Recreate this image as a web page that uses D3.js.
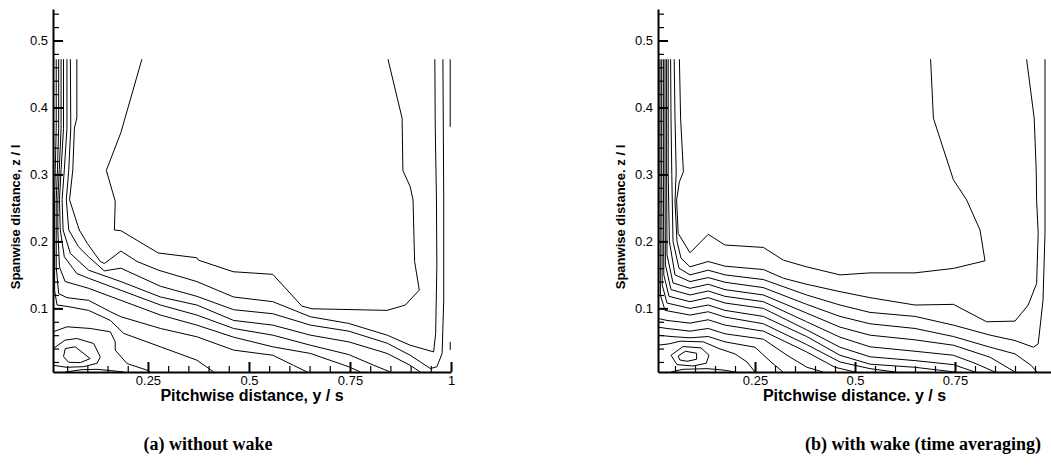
<!DOCTYPE html>
<html>
<head>
<meta charset="utf-8">
<script src="https://cdn.jsdelivr.net/npm/d3@7"></script>
<style>
  body { margin: 0; background: #fff; }
  svg { display: block; }
</style>
</head>
<body>
<div id="chart"></div>
<script>
const width = 1051, height = 468;

// tick values
const yMajor = [0.1, 0.2, 0.3, 0.4, 0.5];
const yMinor = [0.02, 0.04, 0.06, 0.08, 0.12, 0.14, 0.16, 0.18, 0.22, 0.24, 0.26, 0.28,
                0.32, 0.34, 0.36, 0.38, 0.42, 0.44, 0.46, 0.48, 0.52, 0.54];
const xMajorA = [0.25, 0.5, 0.75, 1];
const xMajorB = [0.25, 0.5, 0.75];
const xMinor = [0.05, 0.1, 0.15, 0.2, 0.3, 0.35, 0.4, 0.45, 0.55, 0.6, 0.65, 0.7, 0.8, 0.85, 0.9, 0.95];

// contour lines, (a) without wake: [y/s, z/l]
const contoursA = [
  [[0.235,0.472],[0.183,0.3625],[0.147,0.306],[0.169,0.26],[0.167,0.217],[0.183,0.216],[0.2755,0.1827],[0.371,0.1756],[0.375,0.172],[0.461,0.1547],[0.559,0.1508],[0.631,0.1034],[0.656,0.0994],[0.8416,0.097],[0.887,0.105],[0.9215,0.1274],[0.91,0.1697],[0.906,0.262],[0.899,0.2818],[0.881,0.3057],[0.879,0.384],[0.844,0.472]],
  [[0.074,0.472],[0.074,0.384],[0.068,0.369],[0.064,0.307],[0.056,0.262],[0.08,0.217],[0.1,0.197],[0.132,0.17],[0.142,0.167],[0.161,0.1755],[0.183,0.1856],[0.223,0.17],[0.276,0.157],[0.371,0.14],[0.462,0.117],[0.559,0.11],[0.652,0.0875],[0.747,0.0775],[0.842,0.06],[0.899,0.045],[0.957,0.035],[0.962,0.0626],[0.965,0.162],[0.964,0.262],[0.961,0.371],[0.96,0.472]],
  [[0.058,0.472],[0.059,0.369],[0.054,0.307],[0.048,0.262],[0.054,0.217],[0.078,0.192],[0.103,0.177],[0.142,0.156],[0.183,0.16],[0.281,0.133],[0.371,0.118],[0.462,0.098],[0.559,0.092],[0.652,0.075],[0.747,0.066],[0.842,0.048],[0.899,0.03],[0.949,0.0102],[0.965,0.0127],[0.978,0.0327],[0.982,0.112],[0.982,0.262],[0.98,0.472]],
  [[0.0495,0.472],[0.0495,0.369],[0.043,0.307],[0.0375,0.262],[0.04,0.217],[0.058,0.182],[0.103,0.157],[0.183,0.14],[0.281,0.117],[0.371,0.105],[0.462,0.082],[0.559,0.075],[0.652,0.06],[0.747,0.05],[0.842,0.0327],[0.899,0.015],[0.924,0.005]],
  [[0.041,0.472],[0.041,0.369],[0.035,0.307],[0.031,0.262],[0.033,0.217],[0.043,0.177],[0.074,0.152],[0.103,0.145],[0.183,0.127],[0.281,0.105],[0.371,0.09],[0.462,0.07],[0.559,0.06],[0.652,0.045],[0.747,0.031],[0.809,0.015],[0.85,0.005]],
  [[0.035,0.472],[0.035,0.369],[0.0305,0.307],[0.027,0.262],[0.027,0.217],[0.031,0.162],[0.045,0.14],[0.103,0.13],[0.183,0.112],[0.281,0.09],[0.371,0.075],[0.462,0.057],[0.559,0.0426],[0.652,0.0327],[0.747,0.0128],[0.776,0.005]],
  [[0.029,0.472],[0.029,0.369],[0.026,0.307],[0.023,0.262],[0.023,0.162],[0.029,0.122],[0.0495,0.116],[0.103,0.112],[0.157,0.095],[0.183,0.0875],[0.281,0.07],[0.371,0.0576],[0.462,0.0377],[0.559,0.03],[0.61,0.015],[0.644,0.005]],
  [[0.023,0.472],[0.023,0.369],[0.0206,0.307],[0.019,0.262],[0.019,0.127],[0.025,0.105],[0.0495,0.103],[0.103,0.097],[0.157,0.082],[0.19,0.0626],[0.281,0.0426],[0.371,0.0227],[0.413,0.005]],
  [[0.0156,0.065],[0.0495,0.0725],[0.107,0.07],[0.157,0.065],[0.169,0.05],[0.169,0.0377],[0.198,0.0177],[0.2475,0.0078],[0.256,0.005]],
  [[0.0156,0.04],[0.045,0.0526],[0.074,0.055],[0.1155,0.0476],[0.132,0.0277],[0.124,0.018],[0.091,0.013],[0.0495,0.012],[0.0156,0.015]],
  [[0.0454,0.04],[0.07,0.0426],[0.107,0.025],[0.083,0.019],[0.0536,0.0195],[0.041,0.028],[0.0454,0.04]],
  [[0.045,0.005],[0.087,0.0085],[0.124,0.009],[0.16,0.007],[0.19,0.005]],
  [[0.998,0.472],[0.998,0.371]],
  [[0.998,0.05],[0.998,0.038]]
];

// contour lines, (b) with wake (time averaging)
const contoursB = [
  [[0.061,0.472],[0.064,0.384],[0.071,0.304],[0.061,0.289],[0.054,0.262],[0.058,0.212],[0.0875,0.183],[0.133,0.2105],[0.175,0.1946],[0.271,0.191],[0.321,0.172],[0.379,0.162],[0.4625,0.15],[0.5375,0.153],[0.65,0.153],[0.746,0.1597],[0.825,0.171],[0.8125,0.217],[0.779,0.262],[0.746,0.292],[0.696,0.384],[0.689,0.472]],
  [[0.048,0.472],[0.05,0.384],[0.053,0.304],[0.05,0.26],[0.055,0.2],[0.065,0.175],[0.0875,0.162],[0.133,0.17],[0.175,0.163],[0.271,0.158],[0.321,0.145],[0.379,0.136],[0.4625,0.125],[0.5375,0.116],[0.65,0.105],[0.746,0.106],[0.829,0.08],[0.9,0.081],[0.933,0.105],[0.954,0.137],[0.958,0.212],[0.954,0.262],[0.953,0.307],[0.948,0.384],[0.929,0.472]],
  [[0.039,0.472],[0.04,0.384],[0.042,0.3],[0.045,0.2],[0.06,0.16],[0.0875,0.15],[0.133,0.157],[0.175,0.15],[0.271,0.143],[0.379,0.12],[0.4625,0.105],[0.5375,0.094],[0.65,0.088],[0.746,0.075],[0.838,0.06],[0.9,0.052],[0.946,0.042],[0.958,0.047],[0.97,0.112],[0.975,0.212],[0.975,0.472]],
  [[0.033,0.472],[0.033,0.3],[0.036,0.2],[0.05,0.15],[0.0875,0.14],[0.133,0.146],[0.175,0.139],[0.271,0.131],[0.379,0.106],[0.4625,0.088],[0.5375,0.077],[0.65,0.07],[0.746,0.058],[0.838,0.042],[0.9,0.032],[0.94,0.015],[0.955,0.005]],
  [[0.029,0.472],[0.029,0.3],[0.03,0.18],[0.045,0.138],[0.0875,0.13],[0.133,0.136],[0.175,0.128],[0.271,0.12],[0.379,0.093],[0.4625,0.072],[0.5375,0.06],[0.65,0.053],[0.746,0.045],[0.838,0.027],[0.88,0.012],[0.9,0.005]],
  [[0.025,0.472],[0.025,0.3],[0.026,0.165],[0.04,0.128],[0.0875,0.12],[0.133,0.126],[0.175,0.118],[0.271,0.11],[0.379,0.08],[0.4625,0.057],[0.5375,0.0426],[0.65,0.036],[0.746,0.03],[0.8,0.018],[0.85,0.005]],
  [[0.021,0.472],[0.021,0.3],[0.022,0.15],[0.035,0.118],[0.0875,0.11],[0.133,0.116],[0.175,0.108],[0.271,0.1],[0.379,0.068],[0.4625,0.042],[0.5375,0.0277],[0.65,0.022],[0.746,0.016],[0.8,0.005]],
  [[0.0167,0.472],[0.0167,0.3],[0.018,0.135],[0.03,0.108],[0.0875,0.1],[0.133,0.105],[0.175,0.097],[0.271,0.088],[0.379,0.058],[0.4625,0.03],[0.5375,0.0167],[0.65,0.012],[0.75,0.005]],
  [[0.0125,0.472],[0.0125,0.3],[0.0135,0.12],[0.025,0.097],[0.0875,0.09],[0.133,0.095],[0.175,0.087],[0.271,0.077],[0.379,0.046],[0.4625,0.02],[0.5375,0.01],[0.6,0.005]],
  [[0.0075,0.085],[0.03,0.082],[0.0875,0.078],[0.133,0.083],[0.175,0.075],[0.271,0.066],[0.379,0.035],[0.45,0.012],[0.5,0.005]],
  [[0.0075,0.072],[0.03,0.07],[0.0875,0.066],[0.133,0.07],[0.175,0.062],[0.271,0.054],[0.33,0.03],[0.38,0.012],[0.42,0.005]],
  [[0.0075,0.06],[0.04,0.058],[0.0875,0.056],[0.133,0.058],[0.175,0.05],[0.25,0.042],[0.29,0.02],[0.32,0.005]],
  [[0.0075,0.045],[0.035,0.047],[0.0625,0.051],[0.121,0.05],[0.16,0.04],[0.2,0.032],[0.23,0.02],[0.25,0.005]],
  [[0.04,0.03],[0.07,0.043],[0.115,0.041],[0.135,0.03],[0.128,0.018],[0.095,0.014],[0.055,0.016],[0.04,0.03]],
  [[0.058,0.029],[0.076,0.036],[0.104,0.033],[0.104,0.024],[0.08,0.021],[0.062,0.023],[0.058,0.029]],
  [[0.04,0.005],[0.07,0.009],[0.13,0.01],[0.17,0.008],[0.2,0.005]]
];

const panels = [
  {left: 53, right: 451, xDomain: [0.015, 1], xTicks: xMajorA, lines: contoursA,
   xTitle: "Pitchwise distance, y / s", yTitle: "Spanwise distance, z / l",
   caption: "(a) without wake", captionX: 208},
  {left: 658, right: 1051, xDomain: [0.0075, 0.99], xTicks: xMajorB, lines: contoursB,
   xTitle: "Pitchwise distance. y / s", yTitle: "Spanwise distance. z / l",
   caption: "(b) with wake (time averaging)", captionX: 923}
];

const plotTop = 9, plotBottom = 372;

const svg = d3.select("#chart")
  .append("svg")
    .attr("width", width)
    .attr("height", height)
    .style("background", "#fff");

const y = d3.scaleLinear()
  .domain([0.005, 0.547])
  .range([plotBottom, plotTop]);

const fmt = d => String(d);

panels.forEach(p => {
  const x = d3.scaleLinear()
    .domain(p.xDomain)
    .range([p.left, p.right]);

  const g = svg.append("g");

  // contour lines
  const line = d3.line()
    .x(d => x(d[0]))
    .y(d => y(d[1]));

  g.append("g")
    .selectAll("path")
    .data(p.lines)
    .enter()
    .append("path")
      .attr("d", line)
      .attr("fill", "none")
      .attr("stroke", "#000")
      .attr("stroke-width", 1)
      .attr("stroke-linejoin", "round");

  // minor ticks
  g.append("g")
    .attr("transform", "translate(" + p.left + ",0)")
    .call(d3.axisLeft(y).tickValues(yMinor).tickSize(-6).tickFormat(""))
    .call(a => a.select(".domain").remove())
    .selectAll("line").attr("stroke-width", 1.2);

  g.append("g")
    .attr("transform", "translate(0," + plotBottom + ")")
    .call(d3.axisBottom(x).tickValues(xMinor).tickSize(-6).tickFormat(""))
    .call(a => a.select(".domain").remove())
    .selectAll("line").attr("stroke-width", 1.2);

  // major axes
  const ya = g.append("g")
    .attr("transform", "translate(" + p.left + ",0)")
    .call(d3.axisLeft(y).tickValues(yMajor).tickSize(-10).tickSizeOuter(0).tickPadding(5).tickFormat(fmt));

  const xa = g.append("g")
    .attr("transform", "translate(0," + plotBottom + ")")
    .call(d3.axisBottom(x).tickValues(p.xTicks).tickSize(-10).tickSizeOuter(0).tickPadding(4).tickFormat(fmt));

  [ya, xa].forEach(a => {
    a.select(".domain").attr("stroke-width", 2);
    a.selectAll(".tick line").attr("stroke-width", 2);
    a.selectAll("text")
      .style("font-family", "Arial, 'Liberation Sans', sans-serif")
      .style("font-size", "13px")
      .attr("fill", "#000");
  });

  // axis titles
  g.append("text")
    .attr("x", (p.left + p.right) / 2)
    .attr("y", 401)
    .attr("text-anchor", "middle")
    .style("font-family", "Arial, 'Liberation Sans', sans-serif")
    .style("font-size", "16px")
    .style("font-weight", "bold")
    .text(p.xTitle);

  g.append("text")
    .attr("transform", "translate(" + (p.left - 33) + ",217) rotate(-90)")
    .attr("text-anchor", "middle")
    .style("font-family", "Arial, 'Liberation Sans', sans-serif")
    .style("font-size", "13px")
    .style("font-weight", "bold")
    .text(p.yTitle);

  // caption
  g.append("text")
    .attr("x", p.captionX)
    .attr("y", 450)
    .attr("text-anchor", "middle")
    .style("font-family", "'Times New Roman', 'Liberation Serif', serif")
    .style("font-size", "18px")
    .style("font-weight", "bold")
    .text(p.caption);
});
</script>
</body>
</html>
